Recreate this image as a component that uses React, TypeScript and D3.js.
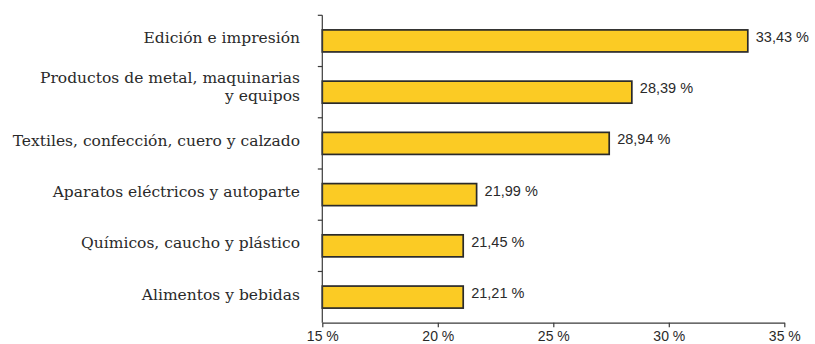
import React, { useEffect, useRef } from "react";
import * as d3 from "d3";

// Categories (top to bottom); "\n" marks a line break in the label
const categories: string[] = [
  "Edición e impresión",
  "Productos de metal, maquinarias\ny equipos",
  "Textiles, confección, cuero y calzado",
  "Aparatos eléctricos y autoparte",
  "Químicos, caucho y plástico",
  "Alimentos y bebidas",
];

// Bar lengths as drawn in the picture (percent)
const barValues: number[] = [33.42, 28.4, 27.42, 21.68, 21.1, 21.1];

// Value labels as printed next to each bar
const valueLabels: string[] = ["33,43 %", "28,39 %", "28,94 %", "21,99 %", "21,45 %", "21,21 %"];

// X axis ticks
const xTicks: number[] = [15, 20, 25, 30, 35];

const W = 815;
const H = 344;

export default function App() {
  const ref = useRef<SVGSVGElement | null>(null);

  useEffect(() => {
    const svg = d3.select(ref.current);
    svg.selectAll("*").remove();

    const x0 = 322.3;
    const x1 = 784.3;
    const yTop = 15.3;
    const yBot = 322.7;
    const axisColor = "#3a3a3a";

    const x = d3.scaleLinear().domain([15, 35]).range([x0, x1]);
    const y = d3
      .scaleBand<string>()
      .domain(categories)
      .range([yTop, yBot])
      .paddingInner(0.57)
      .paddingOuter(0.285);

    const serif = "'DejaVu Serif', serif";
    const sans = "'Liberation Sans', Arial, sans-serif";

    // bars
    svg
      .append("g")
      .selectAll("rect")
      .data(categories)
      .join("rect")
      .attr("x", x(15))
      .attr("y", (d) => y(d)!)
      .attr("width", (d, i) => x(barValues[i]) - x(15))
      .attr("height", y.bandwidth())
      .attr("fill", "#FBCB24")
      .attr("stroke", "#2a2a2a")
      .attr("stroke-width", 1.7);

    // left axis line and ticks at band boundaries
    const gy = svg.append("g");
    gy.append("line")
      .attr("x1", x0)
      .attr("x2", x0)
      .attr("y1", yTop)
      .attr("y2", yBot)
      .attr("stroke", axisColor)
      .attr("stroke-width", 1.2);
    const bounds = d3.range(categories.length).map((i) => yTop + i * y.step());
    gy.selectAll("line.t")
      .data(bounds)
      .join("line")
      .attr("class", "t")
      .attr("x1", x0 - 4.5)
      .attr("x2", x0)
      .attr("y1", (d) => d)
      .attr("y2", (d) => d)
      .attr("stroke", axisColor)
      .attr("stroke-width", 1.2);

    // bottom axis
    const gx = svg
      .append("g")
      .attr("transform", `translate(0,${yBot})`)
      .call(
        d3
          .axisBottom(x)
          .tickValues(xTicks)
          .tickSize(4.5)
          .tickSizeOuter(0)
          .tickPadding(4)
          .tickFormat((d) => `${d} %`)
      );
    gx.select(".domain").attr("stroke", axisColor).attr("stroke-width", 1.2);
    gx.selectAll(".tick line").attr("stroke", axisColor).attr("stroke-width", 1.2);
    gx.selectAll(".tick text")
      .attr("fill", "#2a2a2a")
      .attr("font-family", sans)
      .attr("font-size", 14)
      .attr("dy", "0.71em");

    // category labels
    const cl = svg.append("g");
    categories.forEach((c) => {
      const lines = c.split("\n");
      const cy = y(c)! + y.bandwidth() / 2;
      const t = cl
        .append("text")
        .attr("text-anchor", "end")
        .attr("font-family", serif)
        .attr("font-size", 15.5)
        .attr("fill", "#2a2a2a");
      if (lines.length === 1) {
        t.append("tspan").attr("x", 300).attr("y", cy + 2.5).text(lines[0]);
      } else {
        lines.forEach((ln, j) => {
          t.append("tspan")
            .attr("x", 300)
            .attr("y", cy - 9 + j * 18)
            .text(ln);
        });
      }
    });

    // value labels
    const vl = svg.append("g");
    categories.forEach((c, i) => {
      const cy = y(c)! + y.bandwidth() / 2;
      const t = vl
        .append("text")
        .attr("font-family", sans)
        .attr("font-size", 14.5)
        .attr("fill", "#2a2a2a")
        .attr("y", cy + 1)
        .text(valueLabels[i]);
      const tw = (t.node() as SVGTextElement).getComputedTextLength();
      const lx = Math.min(x(barValues[i]) + 8, W - 2 - tw);
      t.attr("x", lx);
    });
  }, []);

  return (
    <div style={{ position: "fixed", left: 0, top: 0, width: W, height: H, background: "#fff" }}>
      <svg ref={ref} width={W} height={H} style={{ display: "block" }} />
    </div>
  );
}
